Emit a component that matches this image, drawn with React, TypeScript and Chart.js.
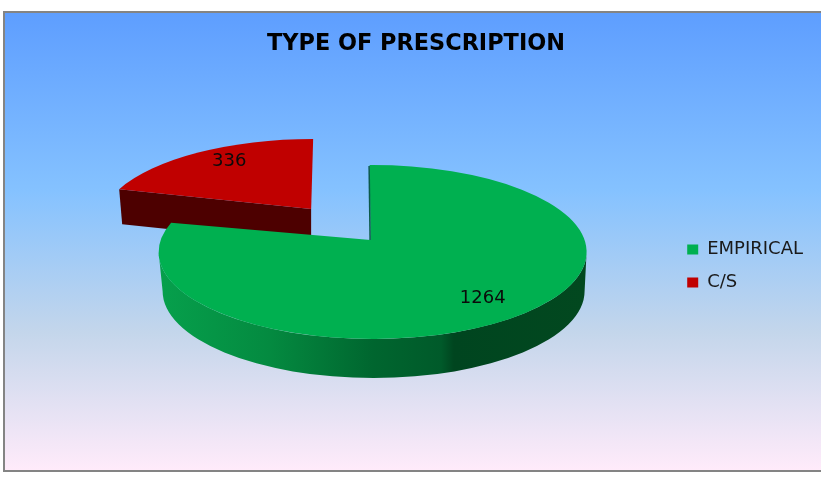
import React, { useEffect, useRef } from "react";
import { Chart, registerables } from "chart.js";

Chart.register(...registerables);

const categories = ["EMPIRICAL", "C/S"];
const values = [1264, 336];
const sliceColors = ["#00b050", "#c00000"];
const titleText = "TYPE OF PRESCRIPTION";

const FONT = '"DejaVu Sans", sans-serif';
const PIE_SHIFT_X = 27;
const PIE_CY = 252;
const SQUASH = 87 / 214;
const EXPLODE_Y = 0.34;
const DEPTH = 39;
const warps = [0.93, 0.86];
const startNudge = [-0.014, 0];
const labelFractions = [
  { fx: 0.885, fy: 0.65 },
  { fx: 0.73, fy: 0.88 },
];

const warp = (a: number, k: number) => {
  const t = a + Math.PI / 2;
  const w = t > 1.5 * Math.PI ? 2 * Math.PI - (2 * Math.PI - t) * k : t;
  return w - Math.PI / 2;
};

const pie3d = {
  id: "pie3d",
  beforeDraw(chart: any) {
    const { ctx, width, height } = chart;
    ctx.save();
    ctx.fillStyle = "#ffffff";
    ctx.fillRect(0, 0, width, height);
    const g = ctx.createLinearGradient(0, 13, 0, 470);
    g.addColorStop(0, "#5e9eff");
    g.addColorStop(0.39, "#85c2ff");
    g.addColorStop(0.7, "#c4d6eb");
    g.addColorStop(1, "#ffebfa");
    ctx.fillStyle = g;
    ctx.fillRect(3, 11, width - 3, 461);
    ctx.fillStyle = "#848484";
    ctx.fillRect(3, 11, width - 3, 2);
    ctx.fillRect(3, 470, width - 3, 2);
    ctx.fillRect(3, 11, 2, 461);
    ctx.restore();
  },
  beforeDatasetDraw() {
    return false;
  },
  afterDatasetsDraw(chart: any) {
    const { ctx } = chart;
    const meta = chart.getDatasetMeta(0);
    const geom = meta.data.map((el: any, i: number) => {
      const offset = el.options.offset || 0;
      const mid = (el.startAngle + el.endAngle) / 2;
      const cx = el.x + PIE_SHIFT_X + Math.cos(mid) * offset;
      const cy = PIE_CY + Math.sin(mid) * offset * EXPLODE_Y;
      const rx = el.outerRadius;
      const ry = rx * SQUASH;
      const lift = 12 + offset * 0.05;
      return {
        el, cx, cy, rx, ry,
        ax: cx - 2,
        ay: cy - lift,
        s: warp(el.startAngle, warps[i]) + startNudge[i],
        e: warp(el.endAngle, warps[i]),
        color: el.options.backgroundColor,
      };
    });

    ctx.save();

    const top = (g: any) => {
      ctx.beginPath();
      ctx.moveTo(g.ax, g.ay);
      ctx.ellipse(g.cx, g.cy, g.rx, g.ry, 0, g.s, g.e, false);
      ctx.closePath();
      ctx.fillStyle = g.color;
      ctx.fill();
    };

    // Exploded back slice: cut-face wall, then its top
    const red = geom[1];
    const lx = red.cx + red.rx * Math.cos(red.s);
    const ly = red.cy + red.ry * Math.sin(red.s);
    ctx.beginPath();
    ctx.moveTo(lx, ly);
    ctx.lineTo(red.ax, red.ay);
    ctx.lineTo(red.ax, red.ay + 35);
    ctx.lineTo(lx + 3, ly + 35);
    ctx.closePath();
    ctx.fillStyle = "#4d0000";
    ctx.fill();
    top(red);

    // Main slice: rim wall, sliver on the cut face, then its top
    const green = geom[0];
    const sc = 0.986;
    const wall = ctx.createLinearGradient(green.cx - green.rx, 0, green.cx + green.rx, 0);
    wall.addColorStop(0, "#06a04c");
    wall.addColorStop(0.26, "#048a40");
    wall.addColorStop(0.5, "#00662f");
    wall.addColorStop(0.66, "#005a2a");
    wall.addColorStop(0.69, "#00451f");
    wall.addColorStop(1, "#02481f");
    ctx.beginPath();
    ctx.ellipse(green.cx, green.cy, green.rx, green.ry, 0, 0, Math.PI, false);
    ctx.ellipse(green.cx + 1, green.cy + DEPTH, green.rx * sc, green.ry, 0, Math.PI, 0, true);
    ctx.closePath();
    ctx.fillStyle = wall;
    ctx.fill();

    const sx = green.cx + green.rx * Math.cos(green.s);
    const sy = green.cy + green.ry * Math.sin(green.s);
    top(green);
    ctx.beginPath();
    ctx.moveTo(sx - 0.5, sy + 1);
    ctx.lineTo(green.ax - 0.5, green.ay);
    ctx.strokeStyle = "#0b5a4a";
    ctx.lineWidth = 1.5;
    ctx.stroke();

    // Value labels
    ctx.fillStyle = "#0a0a0a";
    ctx.font = `18px ${FONT}`;
    ctx.textAlign = "center";
    ctx.textBaseline = "middle";
    geom.forEach((g: any, i: number) => {
      const mid = (g.s + g.e) / 2;
      const f = labelFractions[i];
      ctx.fillText(
        String(values[i]),
        g.cx + Math.cos(mid) * g.rx * f.fx,
        g.cy + Math.sin(mid) * g.ry * f.fy,
      );
    });
    ctx.restore();
  },
};

export default function App() {
  const ref = useRef<HTMLCanvasElement>(null);
  useEffect(() => {
    const chart = new Chart(ref.current as HTMLCanvasElement, {
      type: "pie",
      data: {
        labels: categories,
        datasets: [
          {
            data: values,
            backgroundColor: sliceColors,
            borderWidth: 0,
            offset: [0, 97],
            radius: 214,
          } as any,
        ],
      },
      options: {
        responsive: false,
        animation: false,
        layout: { padding: { left: 19, right: 8, top: 0, bottom: 6 } },
        plugins: {
          tooltip: { enabled: false },
          title: {
            display: true,
            text: titleText,
            color: "#000000",
            font: { family: FONT, size: 22.4, weight: "bold" },
            padding: { top: 31, bottom: 3 },
          },
          legend: {
            position: "right",
            fullSize: false,
            labels: {
              boxWidth: 11,
              boxHeight: 10,
              padding: 15,
              color: "#1a1a1a",
              font: { family: FONT, size: 18 },
            },
          },
        },
      },
      plugins: [pie3d],
    } as any);
    return () => chart.destroy();
  }, []);
  return (
    <div style={{ position: "fixed", left: 0, top: 0, width: 821, height: 477 }}>
      <canvas ref={ref} width={821} height={477} style={{ display: "block" }} />
    </div>
  );
}
